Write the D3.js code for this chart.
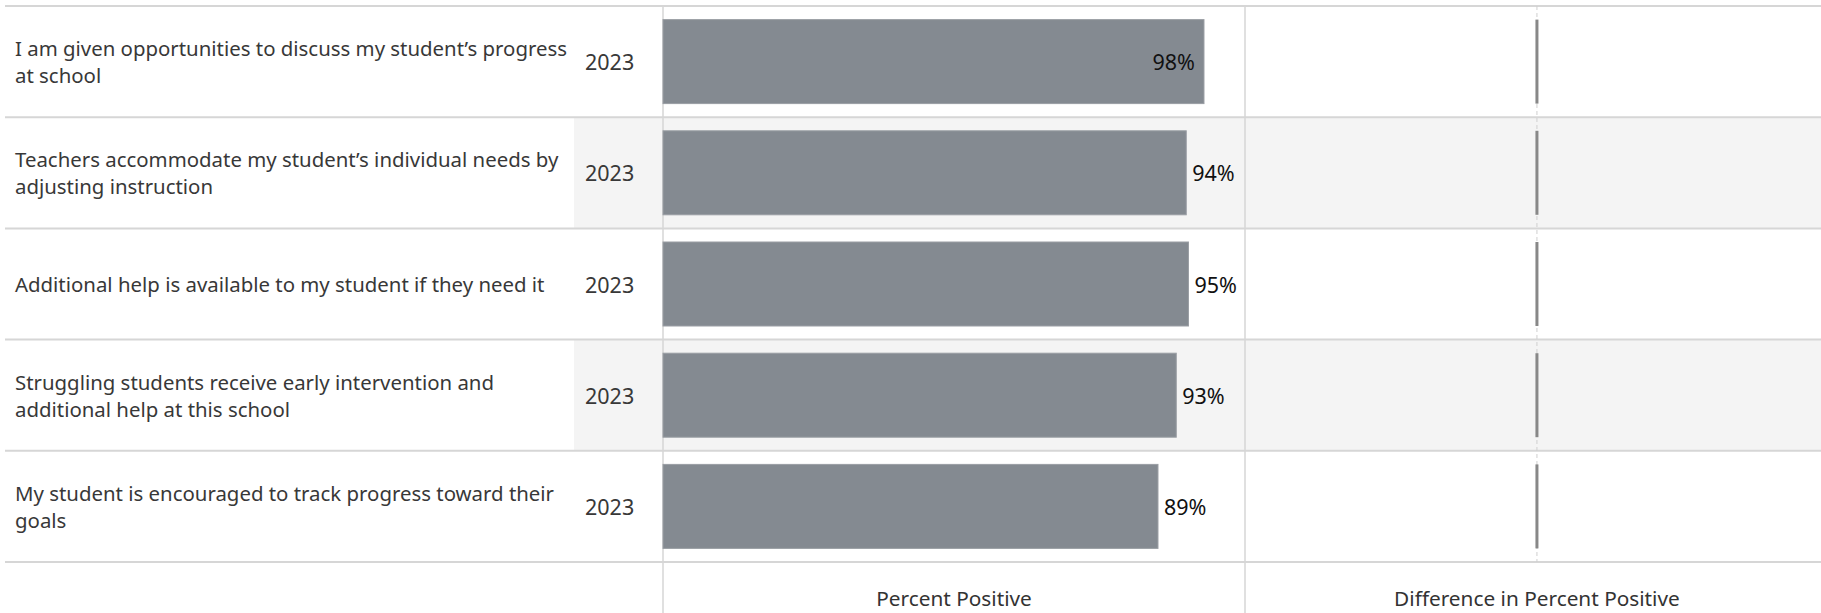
<!DOCTYPE html>
<html lang="en">
	<head>
		<meta charset="UTF-8">
		<title>Percent Positive</title>
		<script src="https://d3js.org/d3.v7.min.js"></script>
		<style>
			body { margin: 0; background: white; }
			text { font-family: 'Noto Sans', Arial, sans-serif; }
		</style>
	</head>
	<body>
		<div id="chart"></div>
		<script>
			// questions, split in lines as they wrap in the picture
			const questions = [
				["I am given opportunities to discuss my student\u2019s progress", "at school"],
				["Teachers accommodate my student\u2019s individual needs by", "adjusting instruction"],
				["Additional help is available to my student if they need it"],
				["Struggling students receive early intervention and", "additional help at this school"],
				["My student is encouraged to track progress toward their", "goals"]
			];
			const years = ["2023", "2023", "2023", "2023", "2023"];
			const percentPositive = [0.976, 0.944, 0.948, 0.926, 0.893];
			const difference = [0, 0, 0, 0, 0];

			const width = 1821, height = 613;
			const topY = 6, rowH = 111.2;
			const paneX0 = 663, paneX1 = 1245, diffX1 = 1821;
			const nRows = questions.length;

			const svg = d3.select("#chart").append("svg")
				.attr("width", width)
				.attr("height", height);

			const pad = 27.2 / rowH;
			const y = d3.scaleBand()
				.domain(d3.range(nRows))
				.range([topY, topY + rowH * nRows])
				.paddingInner(pad).paddingOuter(pad / 2);
			const rowTop = i => topY + i * rowH;

			const x = d3.scaleLinear().domain([0, 1.05]).range([paneX0, paneX1]);
			const xd = d3.scaleLinear().domain([-0.1, 0.0973]).range([paneX1, diffX1]);

			// row banding
			svg.append("g").selectAll("rect")
				.data(d3.range(nRows).filter(i => i % 2 == 1))
				.enter().append("rect")
				.attr("x", 574)
				.attr("y", i => rowTop(i))
				.attr("width", width - 574)
				.attr("height", rowH)
				.attr("fill", "#f4f4f4");

			// horizontal row lines
			svg.append("g").selectAll("line")
				.data(d3.range(nRows + 1))
				.enter().append("line")
				.attr("x1", 5).attr("x2", width)
				.attr("y1", i => rowTop(i)).attr("y2", i => rowTop(i))
				.attr("stroke", "#d6d6d6").attr("stroke-width", 2);

			// vertical pane lines
			svg.append("g").selectAll("line")
				.data([paneX0, paneX1])
				.enter().append("line")
				.attr("x1", d => d).attr("x2", d => d)
				.attr("y1", topY).attr("y2", height)
				.attr("stroke", "#d6d6d6").attr("stroke-width", 1.5);

			// zero line in the difference pane
			svg.append("line")
				.attr("x1", xd(0)).attr("x2", xd(0))
				.attr("y1", topY).attr("y2", rowTop(nRows))
				.attr("stroke", "#cfcfcf").attr("stroke-width", 1)
				.attr("stroke-dasharray", "4,3");

			// question labels
			const lbl = svg.append("g").selectAll("text")
				.data(questions)
				.enter().append("text")
				.attr("x", 15)
				.attr("y", (d, i) => rowTop(i) + rowH / 2 - (d.length - 1) * 13.5)
				.attr("fill", "#383838")
				.style("font-size", "20.4px")
				.attr("dominant-baseline", "central");
			lbl.selectAll("tspan")
				.data(d => d)
				.enter().append("tspan")
				.attr("x", 15)
				.attr("dy", (d, j) => j == 0 ? 0 : 27)
				.text(d => d);

			// year column
			svg.append("g").selectAll("text")
				.data(years)
				.enter().append("text")
				.attr("x", 585)
				.attr("y", (d, i) => rowTop(i) + rowH / 2)
				.attr("dominant-baseline", "central")
				.attr("fill", "#383838")
				.style("font-size", "21.5px")
				.text(d => d);

			// bars
			svg.append("g").selectAll("rect")
				.data(percentPositive)
				.enter().append("rect")
				.attr("x", x(0))
				.attr("y", (d, i) => y(i))
				.attr("width", d => x(d) - x(0))
				.attr("height", y.bandwidth())
				.attr("fill", "#848a91")
				.attr("stroke", "#9a9ea4")
				.attr("stroke-width", 1);

			// bar labels, inside when they do not fit in the pane
			const fmt = d3.format(".0%");
			svg.append("g").selectAll("text")
				.data(percentPositive)
				.enter().append("text")
				.each(function (d, i) {
					const t = d3.select(this);
					const inside = x(d) + 6 + 44 > paneX1;
					t.attr("x", inside ? x(d) - 9 : x(d) + 6)
						.attr("text-anchor", inside ? "end" : "start")
						.attr("y", rowTop(i) + rowH / 2)
						.attr("dominant-baseline", "central")
						.attr("fill", "#111")
						.style("font-size", "21.5px")
						.text(fmt(d));
				});

			// difference bars (all zero, drawn as thin ticks)
			svg.append("g").selectAll("rect")
				.data(difference)
				.enter().append("rect")
				.attr("x", d => Math.min(xd(0), xd(d)) - 1.5)
				.attr("y", (d, i) => y(i))
				.attr("width", d => Math.abs(xd(d) - xd(0)) + 3)
				.attr("height", y.bandwidth())
				.attr("fill", "#888");

			// axis titles
			svg.append("text")
				.attr("x", (paneX0 + paneX1) / 2)
				.attr("y", 598)
				.attr("text-anchor", "middle")
				.attr("dominant-baseline", "central")
				.attr("fill", "#333")
				.style("font-size", "20.8px")
				.text("Percent Positive");
			svg.append("text")
				.attr("x", xd(0))
				.attr("y", 598)
				.attr("text-anchor", "middle")
				.attr("dominant-baseline", "central")
				.attr("fill", "#333")
				.style("font-size", "20.8px")
				.text("Difference in Percent Positive");
		</script>
	</body>
</html>
